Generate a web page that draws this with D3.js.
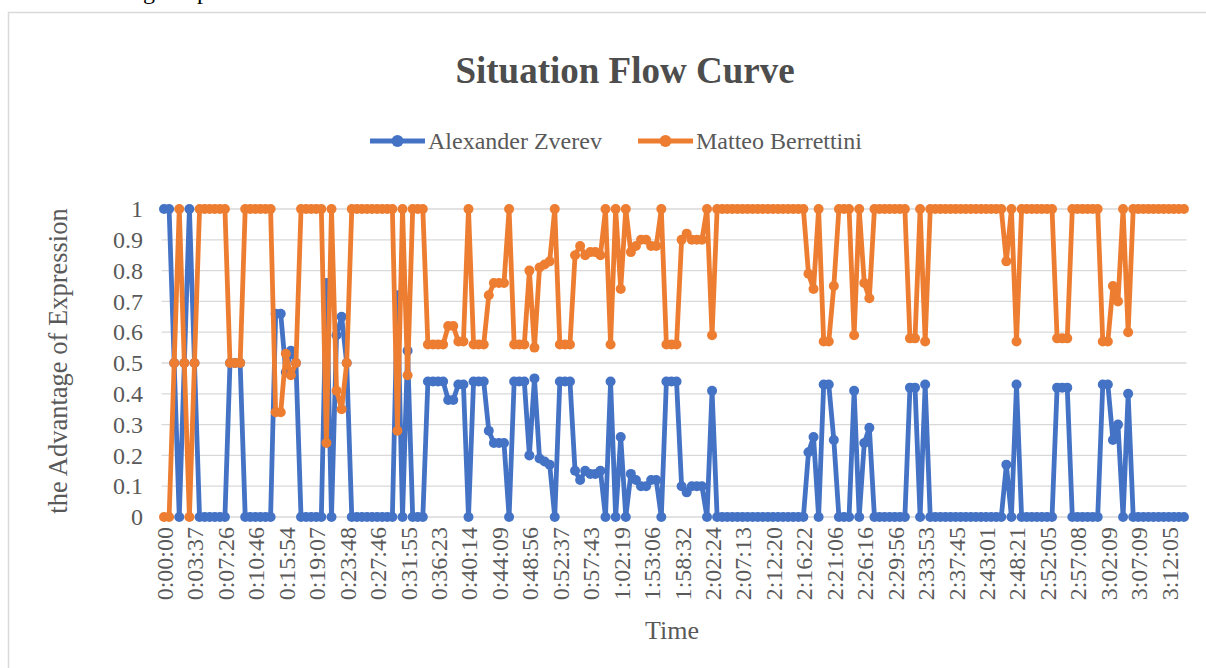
<!DOCTYPE html>
<html>
<head>
<meta charset="utf-8">
<script src="https://cdn.jsdelivr.net/npm/d3@7"></script>
<style>
  body { margin: 0; background: #fff; }
  svg { display: block; font-family: 'Liberation Serif', 'Times New Roman', serif; }
</style>
</head>
<body>
<svg id="chart"></svg>
<script>
let d3 = window.d3

// tick labels shown on the category axis (every 6th point)
let tickLabels = [
  '0:00:00', '0:03:37', '0:07:26', '0:10:46', '0:15:54', '0:19:07', '0:23:48',
  '0:27:46', '0:31:55', '0:36:23', '0:40:14', '0:44:09', '0:48:56', '0:52:37',
  '0:57:43', '1:02:19', '1:53:06', '1:58:32', '2:02:24', '2:07:13', '2:12:20',
  '2:16:22', '2:21:06', '2:26:16', '2:29:56', '2:33:53', '2:37:45', '2:43:01',
  '2:48:21', '2:52:05', '2:57:08', '3:02:09', '3:07:09', '3:12:05'
]
let labelEvery = 6

let seriesNames = ['Alexander Zverev', 'Matteo Berrettini']
let seriesColors = ['#4472c4', '#ed7d31']

let zverev = [
  1, 1, 0.5, 0, 0.5, 1, 0.5, 0, 0, 0, 0, 0, 0, 0.5, 0.5, 0.5,
  0, 0, 0, 0, 0, 0, 0.66, 0.66, 0.47, 0.54, 0.5, 0, 0, 0, 0, 0,
  0.76, 0, 0.59, 0.65, 0.5, 0, 0, 0, 0, 0, 0, 0, 0, 0, 0.72, 0,
  0.54, 0, 0, 0, 0.44, 0.44, 0.44, 0.44, 0.38, 0.38, 0.43, 0.43, 0, 0.44, 0.44, 0.44,
  0.28, 0.24, 0.24, 0.24, 0, 0.44, 0.44, 0.44, 0.2, 0.45, 0.19, 0.18, 0.17, 0, 0.44, 0.44,
  0.44, 0.15, 0.12, 0.15, 0.14, 0.14, 0.15, 0, 0.44, 0, 0.26, 0, 0.14, 0.12, 0.1, 0.1,
  0.12, 0.12, 0, 0.44, 0.44, 0.44, 0.1, 0.08, 0.1, 0.1, 0.1, 0, 0.41, 0, 0, 0,
  0, 0, 0, 0, 0, 0, 0, 0, 0, 0, 0, 0, 0, 0, 0, 0.21,
  0.26, 0, 0.43, 0.43, 0.25, 0, 0, 0, 0.41, 0, 0.24, 0.29, 0, 0, 0, 0,
  0, 0, 0, 0.42, 0.42, 0, 0.43, 0, 0, 0, 0, 0, 0, 0, 0, 0,
  0, 0, 0, 0, 0, 0, 0.17, 0, 0.43, 0, 0, 0, 0, 0, 0, 0,
  0.42, 0.42, 0.42, 0, 0, 0, 0, 0, 0, 0.43, 0.43, 0.25, 0.3, 0, 0.4, 0,
  0, 0, 0, 0, 0, 0, 0, 0, 0, 0
]

let berrettini = [
  0, 0, 0.5, 1, 0.5, 0, 0.5, 1, 1, 1, 1, 1, 1, 0.5, 0.5, 0.5,
  1, 1, 1, 1, 1, 1, 0.34, 0.34, 0.53, 0.46, 0.5, 1, 1, 1, 1, 1,
  0.24, 1, 0.41, 0.35, 0.5, 1, 1, 1, 1, 1, 1, 1, 1, 1, 0.28, 1,
  0.46, 1, 1, 1, 0.56, 0.56, 0.56, 0.56, 0.62, 0.62, 0.57, 0.57, 1, 0.56, 0.56, 0.56,
  0.72, 0.76, 0.76, 0.76, 1, 0.56, 0.56, 0.56, 0.8, 0.55, 0.81, 0.82, 0.83, 1, 0.56, 0.56,
  0.56, 0.85, 0.88, 0.85, 0.86, 0.86, 0.85, 1, 0.56, 1, 0.74, 1, 0.86, 0.88, 0.9, 0.9,
  0.88, 0.88, 1, 0.56, 0.56, 0.56, 0.9, 0.92, 0.9, 0.9, 0.9, 1, 0.59, 1, 1, 1,
  1, 1, 1, 1, 1, 1, 1, 1, 1, 1, 1, 1, 1, 1, 1, 0.79,
  0.74, 1, 0.57, 0.57, 0.75, 1, 1, 1, 0.59, 1, 0.76, 0.71, 1, 1, 1, 1,
  1, 1, 1, 0.58, 0.58, 1, 0.57, 1, 1, 1, 1, 1, 1, 1, 1, 1,
  1, 1, 1, 1, 1, 1, 0.83, 1, 0.57, 1, 1, 1, 1, 1, 1, 1,
  0.58, 0.58, 0.58, 1, 1, 1, 1, 1, 1, 0.57, 0.57, 0.75, 0.7, 1, 0.6, 1,
  1, 1, 1, 1, 1, 1, 1, 1, 1, 1
]

let yTicks = [0, 0.1, 0.2, 0.3, 0.4, 0.5, 0.6, 0.7, 0.8, 0.9, 1]

let width = 1206
let height = 668
let plot = { left: 161.5, right: 1186.5, top: 209, bottom: 517 }
let textColor = '#595959'
let gridColor = '#d9d9d9'

let svg = d3.select('#chart')
  .attr('width', width)
  .attr('height', height)

// bits of the document text cut off above the chart
svg.append('text')
  .attr('y', -1)
  .attr('font-size', 24)
  .attr('fill', '#000')
  .call(t => t.append('tspan').attr('x', 143).text('g'))
  .call(t => t.append('tspan').attr('x', 197).text('p'))

// chart frame
svg.append('rect')
  .attr('x', 8.5)
  .attr('y', 12.5)
  .attr('width', 1210)
  .attr('height', 680)
  .attr('fill', 'none')
  .attr('stroke', gridColor)
  .attr('stroke-width', 1.5)

let x = d3.scalePoint()
  .domain(d3.range(zverev.length))
  .range([plot.left, plot.right])
  .padding(0.5)

let y = d3.scaleLinear()
  .domain([0, 1])
  .range([plot.bottom, plot.top])

// gridlines
svg.append('g')
  .selectAll('line')
  .data(yTicks)
  .join('line')
  .attr('x1', plot.left)
  .attr('x2', plot.right)
  .attr('y1', d => y(d))
  .attr('y2', d => y(d))
  .attr('stroke', gridColor)
  .attr('stroke-width', 1.3)

// y axis labels
let yAxis = d3.axisLeft(y)
  .tickValues(yTicks)
  .tickSize(0)
  .tickPadding(0)
  .tickFormat(d3.format('~g'))

svg.append('g')
  .attr('class', 'y axis')
  .attr('transform', 'translate(143,0)')
  .call(yAxis)
  .call(g => g.select('.domain').remove())
  .selectAll('text')
  .attr('fill', textColor)
  .attr('font-size', 24)
  .attr('font-family', 'Liberation Serif, Times New Roman, serif')

// x axis labels
let xAxis = d3.axisBottom(x)
  .tickValues(d3.range(0, zverev.length, labelEvery))
  .tickSize(0)
  .tickFormat(i => tickLabels[i / labelEvery])

svg.append('g')
  .attr('class', 'x axis')
  .attr('transform', 'translate(0,' + plot.bottom + ')')
  .call(xAxis)
  .call(g => g.select('.domain').remove())
  .selectAll('text')
  .attr('fill', textColor)
  .attr('font-size', 24)
  .attr('font-family', 'Liberation Serif, Times New Roman, serif')
  .attr('text-anchor', 'end')
  .attr('transform', 'rotate(-90)')
  .attr('x', -10)
  .attr('y', 0)
  .attr('dy', '0.35em')

// series
let line = d3.line()
  .x((d, i) => x(i))
  .y(d => y(d))

let series = [zverev, berrettini]
series.forEach(function (values, s) {
  let g = svg.append('g')
  g.append('path')
    .datum(values)
    .attr('d', line)
    .attr('fill', 'none')
    .attr('stroke', seriesColors[s])
    .attr('stroke-width', 4.8)
    .attr('stroke-linejoin', 'round')
    .attr('stroke-linecap', 'round')
  g.selectAll('circle')
    .data(values)
    .join('circle')
    .attr('cx', (d, i) => x(i))
    .attr('cy', d => y(d))
    .attr('r', 5)
    .attr('fill', seriesColors[s])
})

// title
svg.append('text')
  .attr('x', 625)
  .attr('y', 83)
  .attr('text-anchor', 'middle')
  .attr('font-size', 37)
  .attr('font-weight', 'bold')
  .attr('fill', '#4d4d4d')
  .text('Situation Flow Curve')

// legend
let legendX = [370, 638]
seriesNames.forEach(function (name, s) {
  let lg = svg.append('g').attr('transform', 'translate(' + legendX[s] + ',141)')
  lg.append('line')
    .attr('x1', 0)
    .attr('x2', 55)
    .attr('stroke', seriesColors[s])
    .attr('stroke-width', 4.8)
  lg.append('circle')
    .attr('cx', 27.5)
    .attr('r', 6)
    .attr('fill', seriesColors[s])
  lg.append('text')
    .attr('x', 58)
    .attr('y', 8)
    .attr('font-size', 24)
    .attr('fill', textColor)
    .text(name)
})

// axis titles
svg.append('text')
  .attr('transform', 'translate(67,361) rotate(-90)')
  .attr('text-anchor', 'middle')
  .attr('font-size', 26.5)
  .attr('fill', textColor)
  .text('the Advantage of Expression')

svg.append('text')
  .attr('x', 672)
  .attr('y', 639)
  .attr('text-anchor', 'middle')
  .attr('font-size', 26)
  .attr('fill', textColor)
  .text('Time')
</script>
</body>
</html>
